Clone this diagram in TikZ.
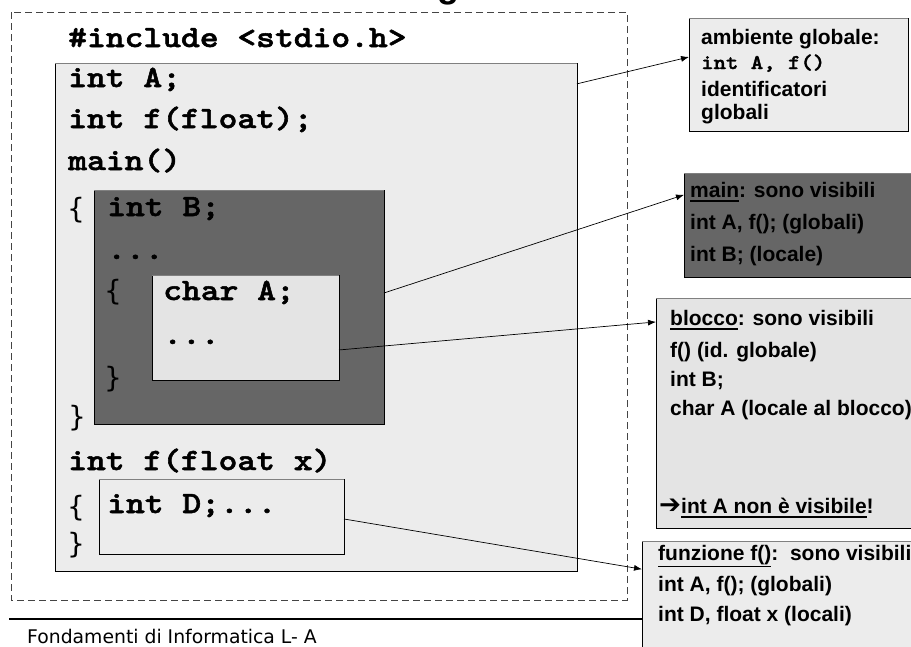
\documentclass[tikz,border=0pt]{standalone}
\usepackage{fontspec}
\setmainfont{Liberation Sans}
\newfontfamily\codefont[Extension=.otf,FakeBold=1.6]{lmmonolt10-bold}
\newfontfamily\bracefont{DejaVu Sans}
\newfontfamily\footfont{DejaVu Sans}
\newfontfamily\symfont{DejaVu Sans}
\usetikzlibrary{arrows.meta,calc}

% underline drawn a fixed distance below the baseline
\newcommand\undl[2][4.5pt]{\setbox0\hbox{#2}\rlap{\rule[-#1]{\wd0}{1.4pt}}\box0}

\definecolor{paleA}{HTML}{ECECEC}
\definecolor{paleB}{HTML}{E4E4E4}
\definecolor{darkbox}{HTML}{666666}
\definecolor{frameline}{HTML}{444444}

\begin{document}
\begin{tikzpicture}[x=1pt,y=-1pt,
  box/.style={draw=black,line width=0.8pt,inner sep=0pt,outer sep=0pt,anchor=north west},
  topedge/.style={draw=gray,line width=0.8pt},
  code/.style={font=\codefont\fontsize{31}{31}\selectfont,xscale=1.155,transform shape,anchor=base west,inner sep=0pt},
  brace/.style={font=\bracefont\fontsize{28}{28}\selectfont,anchor=center,inner sep=0pt},
  note/.style={font=\bfseries\fontsize{21}{21}\selectfont,anchor=base west,inner sep=0pt},
  notecode/.style={font=\codefont\fontsize{21}{21}\selectfont,xscale=1.125,transform shape,anchor=base west,inner sep=0pt},
  link/.style={line width=0.7pt,-{Latex[length=8pt,width=6pt]}},
  envframe/.style={draw=frameline,line width=0.8pt,dash pattern=on 7pt off 4pt},
]
\useasboundingbox (0,0) rectangle (911,646);

% descender of the slide title above the frame
\begin{scope}
  \clip (0,0) rectangle (911,646);
  \node[font=\bfseries\fontsize{36}{36}\selectfont,anchor=base,inner sep=0pt] (ttl) at (448,-3) {g};
\end{scope}

% dashed frame of the source file
\draw[envframe] (11,12) rectangle (627,600);

% nested scopes
\node[box,fill=paleA,minimum width=522,minimum height=508] (glob) at (55,63) {};
\draw[topedge] (glob.north west) -- (glob.north east);
\node[box,fill=darkbox,minimum width=290,minimum height=234] (mainb) at (94,190) {};
\draw[topedge] (mainb.north west) -- (mainb.north east);
\node[box,fill=paleB,minimum width=187,minimum height=105] (blk) at (152,275) {};
\draw[topedge] (blk.north west) -- (blk.north east);
\node[box,fill=paleA,minimum width=245,minimum height=75] (fb) at (99,479) {};
\draw[topedge] (fb.north west) -- (fb.north east);

% source code
\node[code] (l0) at (68,47) {\#include <stdio.h>};
\node[code] (l1) at (68,87) {int A;};
\node[code] (l2) at (68,128) {int f(float);};
\node[code] (l3) at (68,170) {main()};
\node[brace] (b1) at (76,210) {\{};
\node[code] (l4) at (107,216) {int B;};
\node[code] (l5) at (107,259) {...};
\node[brace] (b2) at (113,292) {\{};
\node[code] (l6) at (163,300) {char A;};
\node[code] (l7) at (163,344) {...};
\node[brace] (b3) at (113,379) {\}};
\node[brace] (b4) at (77,418) {\}};
\node[code] (l8) at (68,470) {int f(float x)};
\node[brace] (b5) at (76,508) {\{};
\node[code] (l9) at (107,513) {int D;...};
\node[brace] (b6) at (76,545) {\}};

% footer rule and caption
\draw[line width=1.6pt] (9,619) -- (642,619);
\node[font=\footfont\fontsize{18.8}{18.8}\selectfont,anchor=base west,inner sep=0pt] (foot) at (27,643) {Fondamenti di Informatica L- A};

% explanation boxes
\node[box,fill=paleA,minimum width=219,minimum height=113] (n1) at (689,18) {};
\draw[topedge] (n1.north west) -- (n1.north east);
\node[box,fill=darkbox,minimum width=240,minimum height=104] (n2) at (684,173) {};
\draw[topedge] (n2.north west) -- (n2.north east);
\node[box,fill=paleB,minimum width=270,minimum height=230] (n3) at (656,298) {};
\draw[topedge] (n3.north west) -- (n3.north east);
\node[box,fill=paleA,minimum width=280,minimum height=120] (n4) at (642,541) {};
\draw[topedge] (n4.north west) -- (n4.north east);

\node[note] (t11) at (701,44) {ambiente globale:};
\node[notecode] (t12) at (701,69) {int A, f()};
\node[note] (t13) at (701,96) {identificatori};
\node[note] (t14) at (701,119) {globali};

\node[note] (t21) at (690,197) {\undl{main}: sono visibili};
\node[note] (t22) at (690,229) {int A, f(); (globali)};
\node[note] (t23) at (690,261) {int B; (locale)};

\node[note] (t31) at (670,325) {\undl{blocco}: sono visibili};
\node[note] (t32) at (670,357) {f() (id. globale)};
\node[note] (t33) at (670,386) {int B;};
\node[note] (t34) at (670,415) {char A (locale al blocco)};
\node[note] (t35) at (659,513) {{\symfont\resizebox{22pt}{!}{➔}}\undl{int A non è visibile}!};

\node[note] (t41) at (658,560) {\undl[7pt]{funzione f()}:\ \ sono visibili};
\node[note] (t42) at (658,591) {int A, f(); (globali)};
\node[note] (t43) at (658,621) {int D, float x (locali)};

% connectors from each scope to its description
\coordinate (s1) at ($(glob.north east)!0.041!(glob.south east)$);
\coordinate (e1) at ($(n1.north west)!0.345!(n1.south west)$);
\coordinate (s2) at ($(mainb.north east)!0.44!(mainb.south east)$);
\coordinate (e2) at ($(n2.north west)!0.21!(n2.south west)$);
\coordinate (s3) at ($(blk.north east)!0.714!(blk.south east)$);
\coordinate (e3) at ($(n3.north west)!0.104!(n3.south west)$);
\coordinate (s4) at ($(fb.north east)!0.533!(fb.south east)$);
\coordinate (e4) at ($(n4.north west)!0.235!(n4.south west)$);
\draw[link] (s1) -- (e1);
\draw[link] (s2) -- (e2);
\draw[link] (s3) -- (e3);
\draw[link] (s4) -- (e4);
\end{tikzpicture}
\end{document}
